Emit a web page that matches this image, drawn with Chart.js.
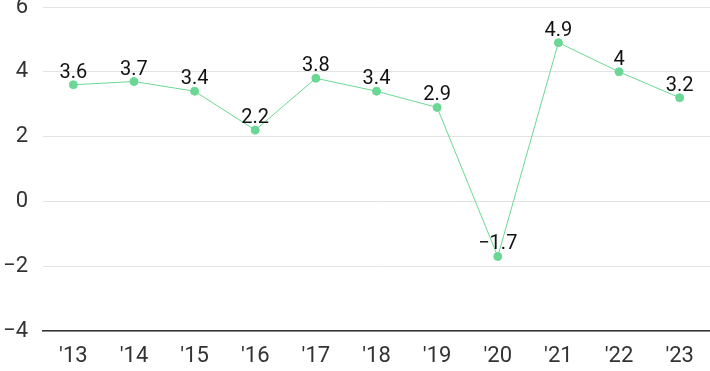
<!DOCTYPE html>
<html lang="en">
<head>
<meta charset="UTF-8">
<title>Chart</title>
<script src="https://cdn.jsdelivr.net/npm/chart.js"></script>
<style>
  html, body { margin: 0; padding: 0; background: #fff; overflow: hidden; }
  canvas { display: block; }
</style>
</head>
<body>
<canvas id="growth" width="710" height="371"></canvas>
<script>
// years and values
const years = ["'13", "'14", "'15", "'16", "'17", "'18", "'19", "'20", "'21", "'22", "'23"];
const values = [3.6, 3.7, 3.4, 2.2, 3.8, 3.4, 2.9, -1.7, 4.9, 4, 3.2];
const yTicks = [-4, -2, 0, 2, 4, 6];

const fmt = v => String(v).replace('-', '\u2212');
const FONT = 'Roboto, "Noto Sans", sans-serif';

// draws value labels above each point
const pointLabels = {
  id: 'pointLabels',
  afterDatasetsDraw(chart) {
    const ctx = chart.ctx;
    const meta = chart.getDatasetMeta(0);
    ctx.save();
    ctx.font = '20px ' + FONT;
    ctx.fillStyle = '#111';
    ctx.textAlign = 'center';
    ctx.textBaseline = 'alphabetic';
    meta.data.forEach((pt, i) => {
      ctx.fillText(fmt(values[i]), pt.x, pt.y - 7);
    });
    ctx.restore();
  }
};

new Chart(document.getElementById('growth'), {
  type: 'line',
  data: {
    labels: years,
    datasets: [{
      data: values,
      borderColor: '#6ad894',
      backgroundColor: '#6ad894',
      borderWidth: 1,
      pointRadius: 4,
      pointHoverRadius: 4,
      tension: 0
    }]
  },
  options: {
    responsive: false,
    animation: false,
    layout: { padding: 0, autoPadding: false },
    plugins: { legend: { display: false }, tooltip: { enabled: false } },
    scales: {
      x: {
        offset: true,
        afterFit: axis => { axis.height = 40; axis.paddingLeft = 0; axis.paddingRight = 0; },
        grid: { display: false, drawTicks: false },
        border: { display: true, color: '#333', width: 1.5 },
        ticks: { color: '#333', padding: 12, font: { family: FONT, size: 22 } }
      },
      y: {
        min: -4,
        max: 6,
        afterBuildTicks: axis => { axis.ticks = yTicks.map(v => ({ value: v })); },
        afterFit: axis => { axis.width = 43; axis.paddingTop = 7; axis.paddingBottom = 0; },
        grid: { color: '#e3e3e3', drawTicks: false },
        border: { display: false },
        ticks: {
          color: '#333',
          padding: 15,
          font: { family: FONT, size: 22 },
          callback: v => fmt(v)
        }
      }
    }
  },
  plugins: [pointLabels]
});
</script>
</body>
</html>
